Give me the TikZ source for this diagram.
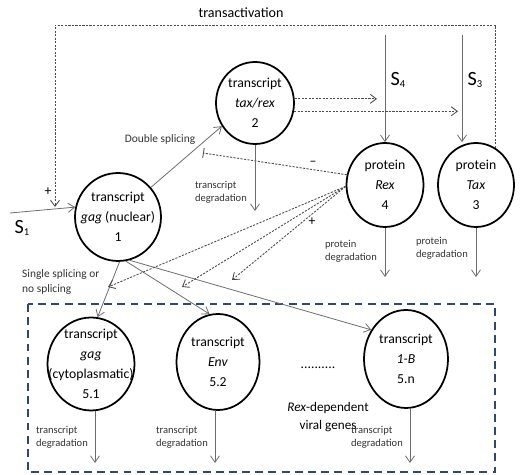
\documentclass[tikz,border=0pt]{standalone}
\usepackage{fontspec}
\setmainfont{Carlito}
\usetikzlibrary{positioning,shapes.geometric,arrows.meta,calc}

\definecolor{boxblue}{RGB}{47,72,115}

\begin{document}
\begin{tikzpicture}[
  x=0.02cm, y=-0.02cm,
  font=\fontsize{7.8}{11.5}\selectfont,
  state/.style={ellipse, draw=black, line width=1pt, inner xsep=-12pt, inner ysep=-12pt, align=center},
  flow/.style={draw=gray!85!black, line width=0.45pt, -{Straight Barb[length=1.3mm,width=1.8mm]}},
  ctrl/.style={draw=gray!60!black, line width=0.5pt, dash pattern=on 1.2pt off 0.8pt, -{Straight Barb[length=1.2mm,width=1.8mm]}},
  note/.style={font=\fontsize{6}{7.5}\selectfont, align=left, text=black!80},
  sig/.style={font=\fontsize{11.5}{12}\selectfont},
]
\useasboundingbox (0,0) rectangle (521,475);

% states of the model
\node[state, minimum width=1.72cm, minimum height=1.76cm] (gagN) at (118,217) {transcript\\\textit{gag} (nuclear)\\1};
\node[state, minimum width=1.56cm, minimum height=1.64cm] (taxrex) at (255,103) {transcript\\\textit{tax/rex}\\2};
\node[state, minimum width=1.54cm, minimum height=1.68cm] (rex) at (385,185) {protein\\\textit{Rex}\\4};
\node[state, minimum width=1.52cm, minimum height=1.68cm] (tax) at (476,185) {protein\\\textit{Tax}\\3};
\node[state, minimum width=1.74cm, minimum height=1.86cm] (gagC) at (91,364) {transcript\\\textit{gag}\\(cytoplasmatic)\\5.1};
\node[state, minimum width=1.66cm, minimum height=1.92cm] (env) at (218,362) {transcript\\\textit{Env}\\5.2};
\node[state, minimum width=1.68cm, minimum height=1.96cm] (oneB) at (406,359) {transcript\\\textit{1-B}\\5.n};

% Rex-dependent group
\draw[boxblue, line width=1.1pt, dash pattern=on 4.5pt off 3pt] (28,304) rectangle (495,472);
\node (dots) at (318,368) {..........};
\node[align=center, font=\fontsize{7.5}{10.5}\selectfont] (rexdep) at (328,417) {\textit{Rex}-dependent\\viral genes};

% sources
\coordinate (s1) at (10,213);
\coordinate (s4) at (385,35);
\coordinate (s3) at (462,35);
\draw[flow] (s1) -- (gagN.167);
\node[sig] (s1lab) at (22,228) {S\raisebox{-0.2ex}{\fontsize{6}{6}\selectfont 1}};
\draw[flow] (s4) -- (rex.north);
\node[sig] (s4lab) at (398,80) {S\raisebox{-0.2ex}{\fontsize{6}{6}\selectfont 4}};
\draw[flow] (s3) -- (s3 |- tax.north);
\node[sig] (s3lab) at (475,80) {S\raisebox{-0.2ex}{\fontsize{6}{6}\selectfont 3}};

% transactivation by Tax
\coordinate (tact) at (55,25);
\coordinate (tactEnd) at (55,207);
\draw[ctrl] (tax.62) |- (tact) -- (tactEnd);
\node[font=\fontsize{8}{10}\selectfont] (tactlab) at (241,13) {transactivation};
\node (plusT) at (48,192) {+};

% splicing
\draw[flow] (gagN.42) -- (taxrex.215);
\node[note, font=\fontsize{6.5}{8}\selectfont] (dsplice) at (160,140) {Double splicing};
\draw[flow] (gagN.272) -- (gagC.82);
\draw[flow] (gagN.280) -- (env.100);
\draw[flow] (gagN.285) -- (oneB.140);
\node[note, font=\fontsize{6.5}{9}\selectfont, anchor=west] (ssplice) at (16,282) {Single splicing or\\no splicing};

% translation of tax/rex
\draw[ctrl] (taxrex.6) -- ([xshift=-1.6mm]taxrex.6 -| s4);
\draw[ctrl] (taxrex.-12) -- ([xshift=-0.8mm]taxrex.-12 -| s3);

% Rex control
\coordinate (inhib) at (203,153);
\draw[ctrl, -{Bar[width=2mm]}] (rex.165) -- (inhib);
\node (minusR) at (313,163) {--};
\foreach \x/\y [count=\k] in {108/287, 182/287, 232/280} {
  \coordinate (rexT\k) at (\x,\y);
  \draw[ctrl] (rex.182) -- (rexT\k);
}
\node (plusR) at (312,222) {+};

% degradation
\coordinate (trDeg) at (255,211);
\draw[flow] (taxrex.south) -- (trDeg);
\node[note, anchor=east] (trDegLab) at (253,192) {transcript\\degradation};
\coordinate (rexDeg) at (385,277);
\draw[flow] (rex.south) -- (rexDeg);
\node[note, anchor=east] (rexDegLab) at (383,251) {protein\\degradation};
\coordinate (taxDeg) at (476,277);
\draw[flow] (tax.south) -- (taxDeg);
\node[note, anchor=east] (taxDegLab) at (474,248) {protein\\degradation};
\foreach \n/\x in {gagC/95, env/215, oneB/410} {
  \coordinate (\n Deg) at (\x,463);
  \draw[flow] (\n Deg |- \n.south) -- (\n Deg);
  \node[note, anchor=east] (\n DegLab) at (\x-1,437) {transcript\\degradation};
}
\end{tikzpicture}
\end{document}
